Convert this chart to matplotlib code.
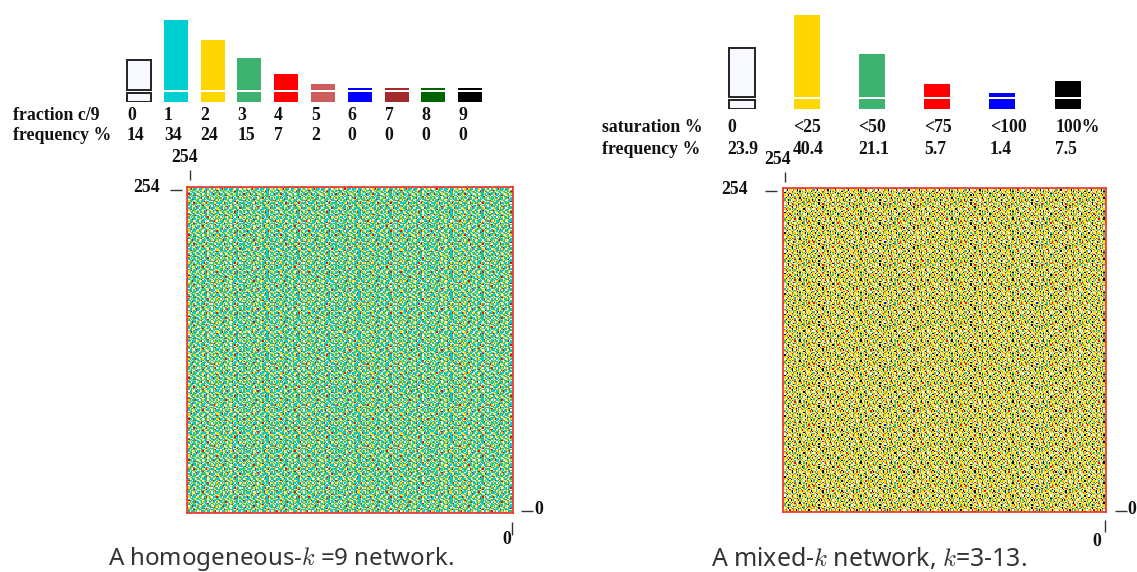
import matplotlib
matplotlib.use("Agg")
import matplotlib.pyplot as plt
import numpy as np
from matplotlib.colors import ListedColormap

W, H = 1137, 572

# --- Left panel data
left_labels = ["0", "1", "2", "3", "4", "5", "6", "7", "8", "9"]
left_freq_text = ["14", "34", "24", "15", "7", "2", "0", "0", "0", "0"]
left_values = [14, 34, 24, 15, 7, 2, 0, 0, 0, 0]
left_colors = ["ghostwhite", "darkturquoise", "gold", "mediumseagreen", "red",
               "indianred", "blue", "brown", "darkgreen", "black"]

# --- Right panel data
right_labels = ["0", "<25", "<50", "<75", "<100", "100%"]
right_freq_text = ["23.9", "40.4", "21.1", "5.7", "1.4", "7.5"]
right_values = [23.9, 40.4, 21.1, 5.7, 1.4, 7.5]
right_colors = ["ghostwhite", "gold", "mediumseagreen", "red", "blue", "black"]

# The individual cells of the 255x255 grids cannot be resolved in the picture.
# These patches are eye estimates from small crops, repeated over each grid;
# they show the texture and colour mix, not the true cell values.
left_patch = [
    "112302101321402112301231",
    "230113210203132011021340",
    "131204112313201421131201",
    "021321021101142310201213",
    "321130213021110201351420",
    "102341121202311031120112",
    "213011302114012132103213",
    "130121201321101340212012",
    "021213411023213101121301",
    "241103120213021321014112",
    "110231021320131302110231",
    "302112213011241101321201",
    "121031102312031421201134",
    "021423110311201310212012",
    "213101251021131204131102",
    "101320341102312021103211",
]
right_patch = [
    "102011250120211310121051",
    "012103012151202112015110",
    "201050132110321021201021",
    "101251201012011520131210",
    "312011014210210120213101",
    "120152010120113011202115",
    "021101201310251021511012",
    "115012031201150120011201",
    "201211101201021103121151",
    "210150512011312010120210",
    "011203110215021201052113",
    "151021021101120115021201",
    "102010131012150211201051",
    "201501102115021103101012",
    "013112021210110152010210",
    "120210151031201012011315",
]

GRID_SIZE = 255
SERIF = "Liberation Serif"


def px_axes(x0, y0, x1, y1, **kw):
    return fig.add_axes([x0 / W, 1 - y1 / H, (x1 - x0) / W, (y1 - y0) / H], **kw)


def draw_bars(box, values, colors, x0, dx, width, zero_px, cut_px):
    left, top, right, bottom = box
    ax = px_axes(left, top, right, bottom)
    scale = 2.0  # px per percent
    ax.set_xlim((left - x0) / dx, (right - x0) / dx)
    ax.set_ylim((zero_px - bottom) / scale, (zero_px - top) / scale)
    ax.axis("off")
    base = (zero_px - bottom) / scale
    cut = (zero_px - cut_px) / scale
    xs = np.arange(len(values))
    for x, v, c in zip(xs, values, colors):
        outlined = c == "ghostwhite"
        edge = "#222222" if outlined else "none"
        lw = 1.4 if outlined else 0
        gap = 1.5 if outlined else 0.75
        ax.bar(x, cut - gap / 2 - base, bottom=base, width=width / dx,
               color=c, edgecolor=edge, linewidth=lw)
        ax.bar(x, v - cut - gap / 2, bottom=cut + gap / 2, width=width / dx,
               color=c, edgecolor=edge, linewidth=lw)


def draw_grid(box, patch, colors):
    left, top, right, bottom = box
    ax = px_axes(left, top, right, bottom)
    arr = np.array([[int(ch) for ch in row] for row in patch])
    reps = (GRID_SIZE // arr.shape[0] + 1, GRID_SIZE // arr.shape[1] + 1)
    cells = np.tile(arr, reps)[:GRID_SIZE, :GRID_SIZE]
    cmap = ListedColormap(["white"] + colors[1:])
    ax.imshow(cells, cmap=cmap, vmin=0, vmax=len(colors) - 1,
              interpolation="nearest", aspect="auto", origin="lower")
    ax.set_xticks([])
    ax.set_yticks([])
    for s in ax.spines.values():
        s.set_color("#f03030")
        s.set_linewidth(1.2)


fig = plt.figure(figsize=(W / 100, H / 100), dpi=100, facecolor="white")

draw_bars((100, 0, 500, 102), left_values, left_colors, 139, 36.8, 24, 87.5, 91)
draw_bars((700, 0, 1110, 109), right_values, right_colors, 741.5, 65.2, 26, 95.8, 98)

draw_grid((187, 187, 513, 513), left_patch, left_colors)
draw_grid((783, 188, 1106, 512), right_patch, right_colors)

# Overlay in pixel coordinates for labels and detached tick marks
ov = fig.add_axes([0, 0, 1, 1], facecolor="none")
ov.set_xlim(0, W)
ov.set_ylim(H, 0)
ov.axis("off")


def label(x, y, s, ha="left", size=12.8):
    ov.text(x, y, s, family=SERIF, weight="bold", size=size, ha=ha, va="center",
            color="#111111")


label(13, 116, "fraction c/9")
label(13, 135, "frequency %")
for i, (a, b) in enumerate(zip(left_labels, left_freq_text)):
    x = 127 + 36.8 * i
    label(x, 116, a)
    label(x, 135, b)

label(602, 127, "saturation %")
label(602, 150, "frequency %")
for i, (a, b) in enumerate(zip(right_labels, right_freq_text)):
    x = 727 + 65.7 * i
    label(x, 127, a)
    label(x, 150, b)


def tick(x0, y0, x1, y1):
    ov.plot([x0, x1], [y0, y1], color="#333333", lw=1.0, solid_capstyle="butt")


# Left grid annotations
label(185, 158, "254", ha="center")
tick(190, 170, 190, 180)
label(160, 187, "254", ha="right")
tick(170, 190, 182, 190)
tick(521, 511, 533, 511)
label(534, 509, "0")
tick(512, 522, 512, 535)
label(507, 540, "0", ha="center")

# Right grid annotations
label(778, 160, "254", ha="center")
tick(785, 172, 785, 182)
label(748, 189, "254", ha="right")
tick(765, 191, 777, 191)
tick(1115, 511, 1127, 511)
label(1127, 509, "0")
tick(1105, 520, 1105, 532)
label(1097, 542, "0", ha="center")

# Captions
plt.rcParams["mathtext.fontset"] = "cm"
ov.text(108, 559, r"A homogeneous-$k$ =9 network.", family="Noto Sans", size=17.3,
        ha="left", va="center", color="#333333", clip_on=False)
ov.text(711, 559, r"A mixed-$k$ network, $k$=3-13.", family="Noto Sans", size=17.9,
        ha="left", va="center", color="#333333", clip_on=False)

fig.savefig("out.png", dpi=100, facecolor="white")
